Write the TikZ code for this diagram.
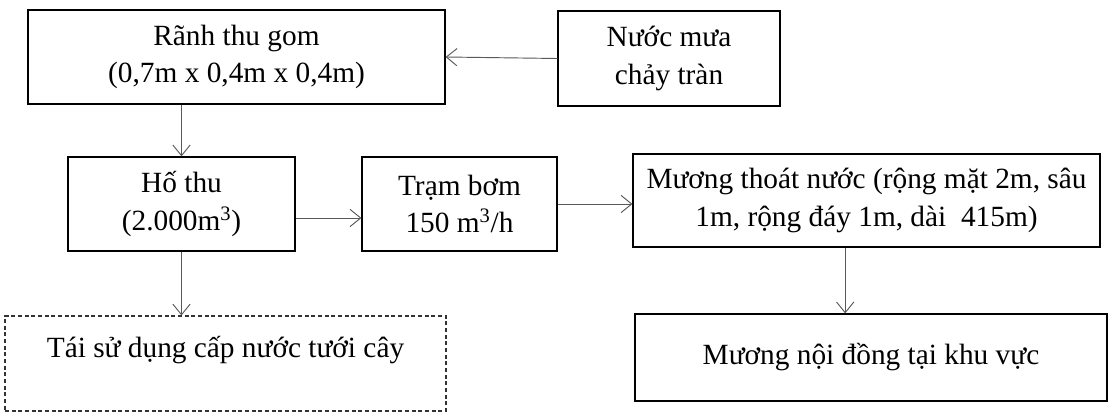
\documentclass[tikz,border=0pt]{standalone}
\usepackage{fontspec}
\setmainfont{Liberation Serif}
\usetikzlibrary{arrows.meta}

\begin{document}
\begin{tikzpicture}[x = 0.75pt, y = -0.75pt,
	every node/.style = {font = \fontsize{22}{28}\selectfont, align = center, inner sep = 0pt},
	box/.style = {draw = black, line width = 0.9pt},
	dashbox/.style = {draw = black!80, line width = 0.8pt, dash pattern = on 3pt off 2pt},
	flow/.style = {->, draw = black!65, line width = 0.7pt},
	> = {Straight Barb[length = 8pt, width = 13pt]}]
\useasboundingbox (0,0) rectangle (1110,413);
% top row
\node[box, minimum width = 312.75pt, minimum height = 70.5pt] (ranh) at (236.5,57) {Rãnh thu gom\\(0,7m x 0,4m x 0,4m)};
\node[box, minimum width = 166.5pt, minimum height = 71.25pt] (mua) at (669,58.5) {Nước mưa\\chảy tràn};
% middle row
\node[box, minimum width = 170.25pt, minimum height = 70.5pt] (ho) at (181.5,204) {Hố thu\\(2.000m\textsuperscript{3})};
\node[box, minimum width = 146.25pt, minimum height = 70.5pt] (tram) at (459.5,204) {Trạm bơm\\150 m\textsuperscript{3}/h};
\node[box, minimum width = 350.25pt, minimum height = 69.75pt] (muong) at (866.5,200.5) {Mương thoát nước (rộng mặt 2m, sâu\\1m, rộng đáy 1m, dài~ 415m)};
% bottom row
\node[dashbox, minimum width = 330.75pt, minimum height = 71.25pt, text depth = 25pt] (taisd) at (225.5,363.5) {Tái sử dụng cấp nước tưới cây};
\node[box, minimum width = 354pt, minimum height = 65.25pt] (noidong) at (871,357.5) {Mương nội đồng tại khu vực};
% connectors
\draw[flow] (mua.west) -- (ranh.east);
\draw[flow] (ranh.south -| ho.north) -- (ho.north);
\draw[flow] ([yshift = -10.5pt]ho.east) -- ([yshift = -10.5pt]tram.west);
\draw[flow] (tram.east) -- (tram.east -| muong.west);
\draw[flow] ([xshift = -16pt]muong.south) -- ([xshift = -16pt]muong.south |- noidong.north);
\draw[flow] (ho.south) -- (ho.south |- taisd.north);
\end{tikzpicture}
\end{document}
